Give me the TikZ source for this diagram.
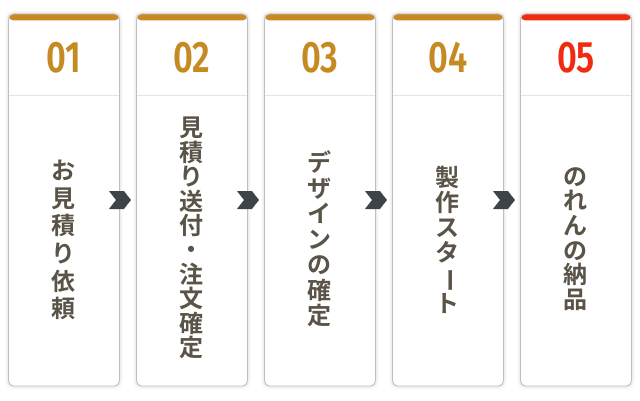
\documentclass[tikz,border=0pt]{standalone}
\usepackage{fontspec}
\usepackage{graphicx}
\usetikzlibrary{positioning,shapes.symbols,calc}
\newfontfamily\jpfont{Noto Sans CJK JP Bold}
\newfontfamily\numfont{Fira Sans SemiBold}
\newcommand{\vbar}{\rotatebox[origin=c]{-90}{ー}}

\definecolor{cardgold}{HTML}{C68A22}
\definecolor{cardred}{HTML}{F02C10}
\definecolor{cardtext}{HTML}{5A5347}
\definecolor{chevgray}{HTML}{3E4347}

\begin{document}
\begin{tikzpicture}[
    x=1pt,y=1pt,
    node distance=16.1pt,
    card/.style={
        draw=black!25,
        fill=white,
        line width=0.9pt,
        rectangle,
        rounded corners=5pt,
        minimum width=111pt,
        minimum height=372pt,
        inner sep=0pt,
        preaction={draw=black,draw opacity=0.03,line width=6pt},
        preaction={draw=black,draw opacity=0.04,line width=3pt},
        path picture={
            \fill[#1] (path picture bounding box.north west) rectangle ([yshift=-6.5pt]path picture bounding box.north east);
            \draw[black!10,line width=0.8pt] ([yshift=-81.5pt]path picture bounding box.north west) -- ([yshift=-81.5pt]path picture bounding box.north east);
        }
    },
    num/.style={
        font=\numfont\fontsize{44}{44}\selectfont,
        inner sep=0pt,
        xscale=0.78
    },
    label/.style={
        font=\jpfont\fontsize{24}{#1}\selectfont,
        text=cardtext,
        align=center,
        inner sep=0pt
    },
    chevron/.style={
        signal,
        signal from=west,
        signal to=east,
        signal pointer angle=104,
        fill=chevgray,
        inner sep=0pt,
        minimum width=22pt,
        minimum height=18pt
    }
]
\useasboundingbox (0,0) rectangle (640,400);
\fill[white] (0,0) rectangle (640,400);

\node[card=cardgold] (card1) at (64,200) {};
\node[card=cardgold, right=of card1] (card2) {};
\node[card=cardgold, right=of card2] (card3) {};
\node[card=cardgold, right=of card3] (card4) {};
\node[card=cardred, right=of card4] (card5) {};

\node[num, text=cardgold] (num1) at ($(card1.north)+(0,-44)$) {01};
\node[num, text=cardgold] (num2) at ($(card2.north)+(0,-44)$) {02};
\node[num, text=cardgold] (num3) at ($(card3.north)+(0,-44)$) {03};
\node[num, text=cardgold] (num4) at ($(card4.north)+(0,-44)$) {04};
\node[num, text=cardred] (num5) at ($(card5.north)+(0,-44)$) {05};

\node[label=27.6pt] (label1) at ($(card1.center)+(-1,-40)$) {お\\見\\積\\り\\依\\頼};
\node[label=24.4pt] (label2) at ($(card2.center)+(-1,-38)$) {見\\積\\り\\送\\付\\・\\注\\文\\確\\定};
\node[label=25.5pt] (label3) at ($(card3.center)+(-1,-39)$) {デ\\ザ\\イ\\ン\\の\\確\\定};
\node[label=24.8pt] (label4) at ($(card4.center)+(-1,-40)$) {製\\作\\ス\\タ\\\vbar\\ト};
\node[label=24.6pt] (label5) at ($(card5.center)+(-1,-39)$) {の\\れ\\ん\\の\\納\\品};

\node[chevron] (chev1) at (card1.east) {};
\node[chevron] (chev2) at (card2.east) {};
\node[chevron] (chev3) at (card3.east) {};
\node[chevron] (chev4) at (card4.east) {};

\end{tikzpicture}
\end{document}
